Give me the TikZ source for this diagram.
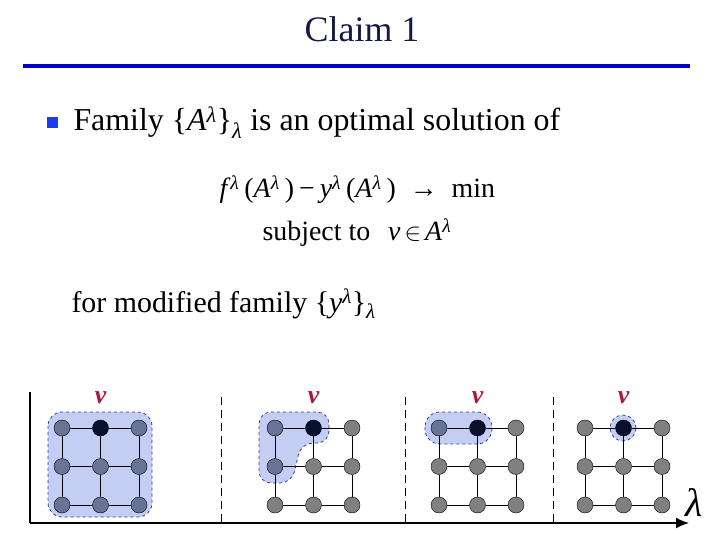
\documentclass[tikz,border=0pt]{standalone}
\usepackage{fontspec}
\setmainfont{Liberation Serif}
\usetikzlibrary{arrows.meta}
\definecolor{titlenavy}{RGB}{20,25,70}
\definecolor{ruleblue}{RGB}{0,0,205}
\definecolor{bulletblue}{RGB}{30,60,230}
\definecolor{vred}{RGB}{170,25,60}
\definecolor{setfill}{RGB}{196,206,245}
\definecolor{setline}{RGB}{50,65,130}
\definecolor{innode}{RGB}{105,115,150}
\definecolor{outnode}{RGB}{128,128,128}
\definecolor{vnode}{RGB}{10,15,45}
\tikzset{
  vert/.style={circle, draw=black, fill=outnode, minimum size=16bp, inner sep=0pt},
  invert/.style={vert, fill=innode},
  vvert/.style={vert, fill=vnode},
  region/.style={fill=setfill, draw=setline, dashed, line width=0.8pt},
  vlabel/.style={text=vred, font=\fontsize{26}{26}\selectfont\bfseries\itshape},
  bigtext/.style={anchor=base west, font=\fontsize{32}{32}\selectfont},
  formula/.style={anchor=base west, font=\fontsize{28}{28}\selectfont},
}
\newcommand{\lsup}{\textsuperscript{\textit{λ}}\hspace{5bp}}
\begin{document}
\begin{tikzpicture}[x=1bp, y=-1bp]
\useasboundingbox (0,0) rectangle (720,540);
\node[anchor=base, text=titlenavy, font=\fontsize{36}{36}\selectfont] (title) at (362,42) {Claim 1};
\draw[ruleblue, line width=4bp] (23,66) -- (690,66);
\fill[bulletblue] (47,117) rectangle (58,128);
\node[bigtext] (family) at (70,131) {Family \{\textit{A}\textsuperscript{\textit{λ}}\}\textsubscript{\textit{λ}} is an optimal solution of};
\node[formula] (objective) at (216,198) {\textit{f}\lsup(\textit{A}\lsup)\hspace{5bp}−\hspace{5bp}\textit{y}\lsup(\textit{A}\lsup)\hspace{14bp}→\hspace{14bp}min};
\node[formula] (constraint) at (259,241) {subject to\hspace{18bp}\textit{v}\hspace{4bp}$\in$\hspace{4bp}\textit{A}\textsuperscript{\textit{λ}}};
\node[bigtext, font=\fontsize{30}{30}\selectfont] (modified) at (68,312) {for modified family \{\textit{y}\textsuperscript{\textit{λ}}\}\textsubscript{\textit{λ}}};
% axes
\coordinate (top) at (30,392);
\coordinate (origin) at (30,523);
\coordinate (axisend) at (689,523);
\draw[line width=1.6pt] (top) -- (origin);
\draw[line width=1.6pt, -{Latex[length=13bp, width=11bp]}] (origin) -- (axisend);
\node[font=\fontsize{40}{40}\selectfont\itshape] (lambda) at (694,502) {λ};
\foreach \x in {221,405,553}
  \draw[dashed, dash pattern=on 8bp off 5bp] (\x,397) -- (\x,523);
% sets containing v
\draw[region, rounded corners=14bp] (48,412) rectangle (152,517);
\draw[region, rounded corners=12bp] (259,412) -- (329,412) -- (329,443) -- (301,443) -- (292,483) -- (259,483) -- cycle;
\draw[region, rounded corners=15bp] (425,412) rectangle (492,444);
\draw[region] (623,428) circle (13bp);
% grids
\foreach \p/\x/\m in {1/62/9, 2/275/2, 3/439/1, 4/585/0} {
  \foreach \i in {0,1,2} {
    \foreach \j in {0,1,2} {
      \pgfmathtruncatemacro\inset{(\m==9) || (\i==0 && \j<\m)}
      \ifnum\i\j=10 \def\st{vvert}\else\ifnum\inset=1 \def\st{invert}\else\def\st{vert}\fi\fi
      \node[\st] (n\p-\i\j) at (\x+38.5*\i, 428+38.5*\j) {};
    }
  }
  \node[vlabel] (v\p) at (\x+38.5, 398) {v};
}
\foreach \p in {1,...,4}
  \foreach \i in {0,1,2}
    \foreach \a/\b in {0/1,1/2} {
      \draw (n\p-\i\a) -- (n\p-\i\b);
      \draw (n\p-\a\i) -- (n\p-\b\i);
    }
\end{tikzpicture}
\end{document}
